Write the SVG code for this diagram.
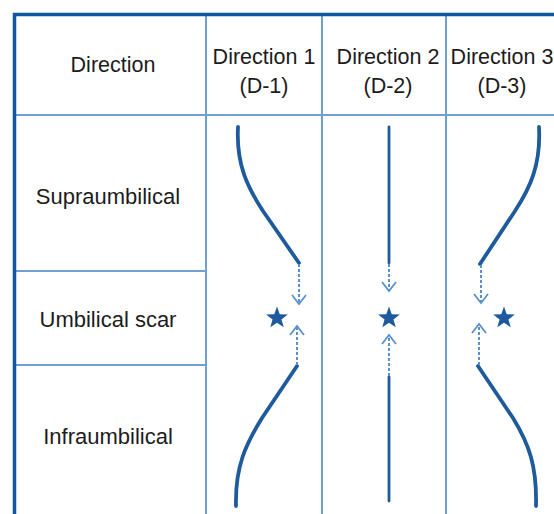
<svg xmlns="http://www.w3.org/2000/svg" width="554" height="514" viewBox="0 0 554 514">
<style>
.lbl{font-family:"Liberation Sans",Arial,sans-serif;font-size:21.5px;fill:#1c1c1c;text-anchor:middle}
.grid{stroke:#6fa0d2;stroke-width:2;fill:none}
.frame{stroke:#10569c;stroke-width:3.5;fill:none}
.curve{stroke:#1d5b9c;stroke-width:3.8;fill:none;stroke-linecap:round}
.thin{stroke:#1d5b9c;stroke-width:2.8;fill:none;stroke-linecap:round}
.dash{stroke:#5b90cf;stroke-width:2;fill:none;stroke-dasharray:3 2}
.head{stroke:#5b90cf;stroke-width:1.8;fill:none}
.star{fill:#1d5b9c}
</style>
<defs>
<polygon id="star" points="0,-11.5 2.75,-3.8 10.9,-3.55 4.45,1.45 6.75,9.3 0,4.7 -6.75,9.3 -4.45,1.45 -10.9,-3.55 -2.75,-3.8"/>
</defs>
<rect width="554" height="514" fill="#fff"/>
<g id="grid">
<line class="grid" x1="13" y1="115" x2="554" y2="115"/>
<line class="grid" x1="13" y1="271" x2="206" y2="271"/>
<line class="grid" x1="13" y1="365" x2="206" y2="365"/>
<line class="grid" x1="206" y1="14" x2="206" y2="514"/>
<line class="grid" x1="322" y1="14" x2="322" y2="514"/>
<line class="grid" x1="446" y1="14" x2="446" y2="514"/>
<path class="frame" d="M14.5,514 V14.5 H554"/>
</g>
<g id="header-direction"><text class="lbl" x="113" y="72">Direction</text></g>
<g id="header-d1"><text class="lbl" x="264" y="64">Direction 1</text><text class="lbl" x="264" y="93">(D-1)</text></g>
<g id="header-d2"><text class="lbl" x="388" y="64">Direction 2</text><text class="lbl" x="388" y="93">(D-2)</text></g>
<g id="header-d3"><text class="lbl" x="502" y="64">Direction 3</text><text class="lbl" x="502" y="93">(D-3)</text></g>
<g id="row-supra"><text class="lbl" x="108" y="204" style="font-size:22px">Supraumbilical</text></g>
<g id="row-umbilical"><text class="lbl" x="108" y="327" style="font-size:22px">Umbilical scar</text></g>
<g id="row-infra"><text class="lbl" x="108" y="444" style="font-size:22px">Infraumbilical</text></g>
<g id="star-d1"><use href="#star" class="star" x="277" y="318"/></g>
<g id="star-d2"><use href="#star" class="star" x="389" y="318"/></g>
<g id="star-d3"><use href="#star" class="star" x="504" y="318"/></g>
<g id="connectors">
<path class="curve" d="M238,127 C236,165 248,188 263,211 L299,263"/>
<path class="dash" d="M299,264 V303"/>
<path class="head" d="M292,295 L299,304 L306,295"/>
<path class="curve" d="M297,366 L262,418 C246,444 235,466 236,506"/>
<path class="dash" d="M297,365 V327"/>
<path class="head" d="M290,335 L297,326 L304,335"/>
<path class="thin" d="M389,127 V263"/>
<path class="dash" d="M389,264 V290"/>
<path class="head" d="M382,282 L389,291 L396,282"/>
<path class="thin" d="M389,377 V501"/>
<path class="dash" d="M389,376 V336"/>
<path class="head" d="M382,344 L389,335 L396,344"/>
<path class="curve" d="M539,127 C541,165 530,188 515,211 L480,264"/>
<path class="dash" d="M481,265 V302"/>
<path class="head" d="M474,294 L481,303 L488,294"/>
<path class="curve" d="M478,366 L513,418 C529,444 537,466 536,506"/>
<path class="dash" d="M479,365 V325"/>
<path class="head" d="M472,333 L479,324 L486,333"/>
</g>
</svg>
